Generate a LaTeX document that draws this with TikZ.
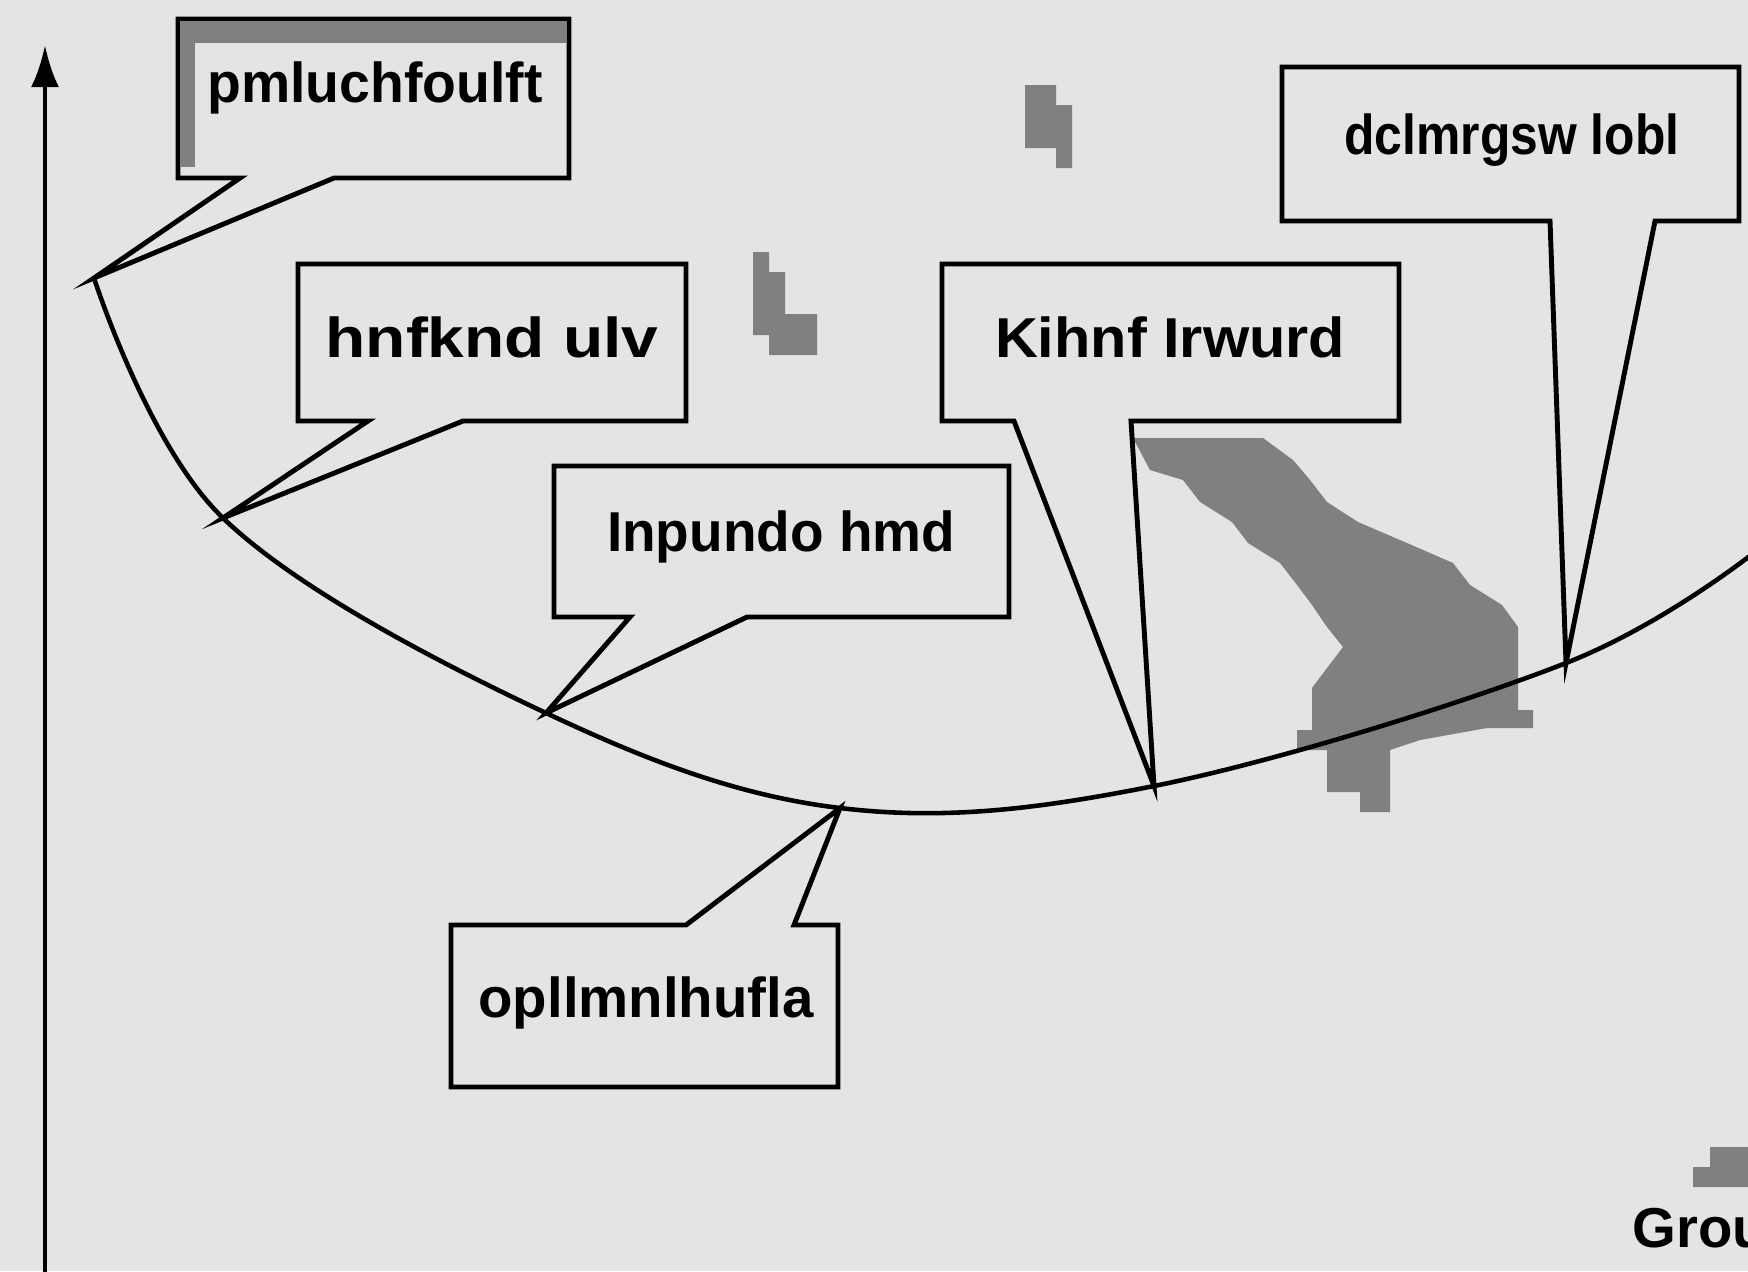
\documentclass[tikz,border=0pt]{standalone}
\usepackage{fontspec}
\setmainfont{Liberation Sans}
\usetikzlibrary{arrows.meta}
\definecolor{bg}{HTML}{E4E4E4}
\definecolor{blot}{HTML}{808080}
\newcommand\fitw[2]{\resizebox{#1}{\height}{#2}}
\tikzset{
  callout/.style={draw=black, line width=1.4pt, fill=bg, line join=miter},
  lbl/.style={font=\bfseries\fontsize{16}{19}\selectfont, inner sep=0pt},
  curveline/.style={line width=1.3pt},
  blotfill/.style={fill=blot, draw=none},
  axisline/.style={line width=1.4pt, -{Latex[length=12pt,width=8pt]}},
}
\begin{document}
\begin{tikzpicture}[x=0.1mm,y=-0.1mm]
\clip (0,0) rectangle (1748,1271);
\fill[bg] (0,0) rectangle (1748,1271);

% tips on the curve
\coordinate (t1) at (94,278);
\coordinate (t2) at (223,518);
\coordinate (t3) at (546,713);
\coordinate (t6) at (840,808);
\coordinate (t4) at (1154,786);
\coordinate (t5) at (1566,663);
\coordinate (cend) at (1760,548);

% grey blots
\fill[blotfill] (1133,438) -- (1263,438) -- (1293,460) -- (1310,480) -- (1327,502) -- (1358,522) -- (1407,543) -- (1453,563) -- (1470,585) -- (1502,605) -- (1518,627) -- (1518,710) -- (1533,710) -- (1533,728) -- (1487,728) -- (1420,740) -- (1390,750) -- (1390,812) -- (1360,812) -- (1360,792) -- (1327,792) -- (1327,750) -- (1297,750) -- (1297,730) -- (1312,730) -- (1312,688) -- (1327,668) -- (1343,647) -- (1327,627) -- (1312,605) -- (1297,585) -- (1280,563) -- (1248,543) -- (1232,522) -- (1200,502) -- (1183,480) -- (1150,470) -- cycle;
\fill[blotfill] (1025,85) -- (1056,85) -- (1056,105) -- (1072,105) -- (1072,168) -- (1056,168) -- (1056,148) -- (1025,148) -- cycle;
\fill[blotfill] (753,252) -- (769,252) -- (769,272) -- (785,272) -- (785,314) -- (817,314) -- (817,355) -- (769,355) -- (769,335) -- (753,335) -- cycle;
\fill[blotfill] (1710,1147) -- (1748,1147) -- (1748,1187) -- (1693,1187) -- (1693,1167) -- (1710,1167) -- cycle;

% axis
\coordinate (ax0) at (45,1280);
\coordinate (ax1) at (45,45);
\draw[axisline] (ax0) -- (ax1);

% callouts
\draw[callout] (178,19) -- (569,19) -- (569,178) -- (334,178) -- (t1) -- (240,178) -- (178,178) -- cycle;
\fill[blotfill] (180,21) rectangle (567,43);
\fill[blotfill] (180,21) rectangle (195,167);
\draw[callout] (298,264) -- (686,264) -- (686,421) -- (463,421) -- (t2) -- (368,421) -- (298,421) -- cycle;
\draw[callout] (554,466) -- (1009,466) -- (1009,617) -- (747,617) -- (t3) -- (630,617) -- (554,617) -- cycle;
\draw[callout] (942,264) -- (1399,264) -- (1399,421) -- (1131,421) -- (t4) -- (1014,421) -- (942,421) -- cycle;
\draw[callout] (1282,67) -- (1739,67) -- (1739,221) -- (1655,221) -- (t5) -- (1550,221) -- (1282,221) -- cycle;
\draw[callout] (451,925) -- (686,925) -- (t6) -- (794,925) -- (838,925) -- (838,1087) -- (451,1087) -- cycle;

% labels
\node[lbl] (l1) at (375,88) {\fitw{33.5mm}{pmluchfoulft}};
\node[lbl] (l2) at (492,337) {\fitw{33.3mm}{hnfknd ulv}};
\node[lbl] (l3) at (781,537) {\fitw{34.8mm}{Inpundo hmd}};
\node[lbl] (l4) at (1170,337) {\fitw{35mm}{Kihnf Irwurd}};
\node[lbl] (l5) at (1512,140) {\fitw{33.5mm}{dclmrgsw lobl}};
\node[lbl] (l6) at (646,1003) {\fitw{33.5mm}{opllmnlhufla}};
\node[lbl, anchor=north west] (grp) at (1632,1208) {Group};

% curve
\draw[curveline] plot[smooth, tension=0.6] coordinates {(t1) (t2) (t3) (t6) (t4) (t5) (cend)};
\end{tikzpicture}
\end{document}
